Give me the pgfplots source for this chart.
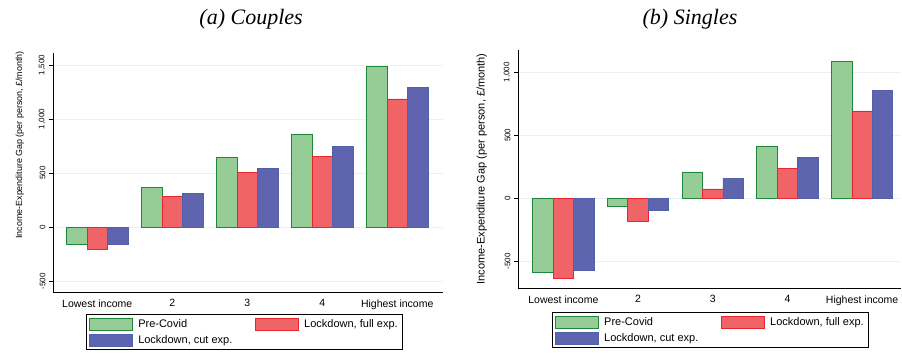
\documentclass[border=0pt]{standalone}
\usepackage{pgfplots}
\pgfplotsset{compat=1.18}
\usepackage{fontspec}
\setmainfont{Liberation Sans}
\newfontfamily\serifit{Liberation Serif}
\definecolor{gfill}{RGB}{150,204,150}
\definecolor{gedge}{RGB}{30,135,60}
\definecolor{rfill}{RGB}{240,100,104}
\definecolor{redge}{RGB}{232,36,44}
\definecolor{bfill}{RGB}{94,100,174}
\definecolor{bedge}{RGB}{80,96,170}
\definecolor{gridc}{RGB}{232,241,243}
\pgfplotsset{
 mystyle/.style={
  scale only axis,
  axis x line*=bottom, axis y line*=left,
  axis line style={black, line width=0.8pt, -},
  xtick={0,...,4}, xticklabels={Lowest income,2,3,4,Highest income},
  x tick style={draw=none},
  xticklabel style={font=\fontsize{10.5}{12}\selectfont},
  ytick style={black, line width=0.6pt}, tick align=outside, major tick length=4pt,
  yticklabel style={rotate=90, anchor=south, font=\fontsize{8}{9}\selectfont},
  ymajorgrids, grid style={gridc, line width=0.8pt},
  legend columns=2, legend cell align=left,
  legend style={draw=black, line width=0.6pt, font=\fontsize{11}{12}\selectfont,
    inner ysep=3pt,
    /tikz/every even column/.append style={column sep=21pt}, row sep=2.5pt},
  legend image code/.code={\draw[##1, line width=0.8pt] (0pt,-6pt) rectangle (43pt,6pt);},
 },
 gbar/.style={ybar, bar width=0.273, bar shift=-0.273, fill=gfill, draw=gedge, line width=0.8pt},
 rbar/.style={ybar, bar width=0.273, bar shift=0, fill=rfill, draw=redge, line width=0.8pt},
 bbar/.style={ybar, bar width=0.273, bar shift=0.273, fill=bfill, draw=bedge, line width=0.8pt},
}
\begin{document}
\begin{tikzpicture}
\useasboundingbox (0,0) rectangle (902pt,353pt);
\begin{axis}[mystyle,
  at={(53pt,61pt)}, anchor=south west, width=390pt, height=239pt,
  xmin=-0.59, xmax=4.61, ymin=-598, ymax=1611,
  ytick={-500,0,500,1000,1500}, yticklabels={-500,0,500,{1,000},{1,500}},
  ylabel={Income-Expenditure Gap (per person, \pounds/month)},
  ylabel style={font=\fontsize{8.9}{10}\selectfont, at={(ticklabel cs:0.615)}},
  ylabel shift=8pt,
  title={\serifit\itshape (a) Couples},
  title style={font=\fontsize{22}{24}\selectfont, anchor=base, at={(rel axis cs:0.508,1)}, yshift=22pt},
  legend style={at={(0.085,-0.092)}, anchor=north west},
]
\addplot[gbar] coordinates {(0,-158) (1,368) (2,649) (3,859) (4,1490)};
\addplot[rbar] coordinates {(0,-204) (1,284) (2,504) (3,652) (4,1186)};
\addplot[bbar] coordinates {(0,-158) (1,315) (2,547) (3,748) (4,1294)};
\legend{\hspace{3pt}Pre-Covid, {\hspace{3pt}Lockdown, full exp.\hspace{12pt}}, {\hspace{3pt}Lockdown, cut exp.}}
\end{axis}
\begin{axis}[mystyle,
  at={(518pt,65pt)}, anchor=south west, width=383pt, height=238pt,
  xmin=-0.607, xmax=4.52, ymin=-712, ymax=1177,
  ytick={-500,0,500,1000}, yticklabels={-500,0,500,{1,000}},
  ylabel={Income-Expenditure Gap (per person, \pounds/month)},
  ylabel style={font=\fontsize{11}{12}\selectfont},
  ylabel shift=10pt,
  title={\serifit\itshape (b) Singles},
  title style={font=\fontsize{22}{24}\selectfont, anchor=base, at={(rel axis cs:0.449,1)}, yshift=19pt},
  legend style={at={(0.089,-0.101)}, anchor=north west},
]
\addplot[gbar] coordinates {(0,-587) (1,-66) (2,209) (3,410) (4,1085)};
\addplot[rbar] coordinates {(0,-635) (1,-185) (2,74) (3,238) (4,693)};
\addplot[bbar] coordinates {(0,-574) (1,-100) (2,161) (3,325) (4,857)};
\legend{\hspace{3pt}Pre-Covid, {\hspace{3pt}Lockdown, full exp.\hspace{12pt}}, {\hspace{3pt}Lockdown, cut exp.}}
\end{axis}
\end{tikzpicture}
\end{document}
